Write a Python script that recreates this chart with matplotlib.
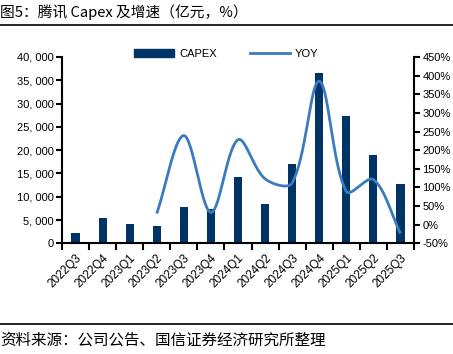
import numpy as np
import matplotlib
matplotlib.use("Agg")
import matplotlib.pyplot as plt
from matplotlib.lines import Line2D
from matplotlib.patches import Patch
from matplotlib.ticker import FuncFormatter

plt.rcParams['font.family'] = ['Liberation Sans', 'Noto Sans CJK SC', 'DejaVu Sans']

quarters = ['2022Q3', '2022Q4', '2023Q1', '2023Q2', '2023Q3', '2023Q4', '2024Q1',
            '2024Q2', '2024Q3', '2024Q4', '2025Q1', '2025Q2', '2025Q3']
capex = [2270, 5490, 4200, 3770, 7850, 7420, 14280, 8420, 17060, 36570, 27290, 18930, 12710]
# 同比从2023Q2开始
yoy = [30, 239, 33, 228, 123, 112, 385, 89, 121, -24]

bar_color = '#003466'
line_color = '#3A7BBF'


def smooth_curve(x, y, sx, sy, n=40):
    # 类似Excel的平滑线：按屏幕上的弦长分配控制点
    P = np.column_stack([np.asarray(x, float) * sx, np.asarray(y, float) * sy])
    m = len(P)
    d = np.linalg.norm(np.diff(P, axis=0), axis=1)
    out = [P[0]]
    for i in range(m - 1):
        p1, p2 = P[i], P[i + 1]
        if i == 0:
            c1 = p1 + (p2 - p1) / 3
        else:
            D = P[i + 1] - P[i - 1]
            c1 = p1 + D * d[i] / (d[i - 1] + d[i]) / 3
        if i + 1 == m - 1:
            c2 = p2 - (p2 - p1) / 3
        else:
            D = P[i + 2] - P[i]
            c2 = p2 - D * d[i] / (d[i] + d[i + 1]) / 3
        t = np.linspace(0, 1, n)[1:, None]
        seg = ((1 - t) ** 3 * p1 + 3 * (1 - t) ** 2 * t * c1
               + 3 * (1 - t) * t ** 2 * c2 + t ** 3 * p2)
        out.extend(seg)
    out = np.array(out)
    return out[:, 0] / sx, out[:, 1] / sy


fig = plt.figure(figsize=(4.53, 3.54), dpi=100)
ax = fig.add_axes([62 / 453, 1 - 243.3 / 354, (414 - 62) / 453, (243.3 - 57) / 354])

x = np.arange(len(quarters))
ax.bar(x, capex, width=0.3, color=bar_color, zorder=2)
ax.set_xlim(-0.5, len(quarters) - 0.5)
ax.set_ylim(0, 40000)
ax.set_yticks(np.arange(0, 40001, 5000))
ax.yaxis.set_major_formatter(FuncFormatter(lambda v, p: f'{int(v):,}'.replace(',', ', ')))

ax.set_xticks(x)
ax.set_xticklabels(quarters, rotation=45, ha='right', rotation_mode='anchor', fontsize=8.5)
ax.set_xticks(np.arange(-0.5, len(quarters), 1), minor=True)
ax.tick_params(axis='x', which='major', length=0, pad=6)
ax.tick_params(axis='x', which='minor', length=5, width=1.5, direction='out')
ax.tick_params(axis='y', labelsize=8, length=4, width=1.5, direction='out', pad=2)

ax2 = ax.twinx()
xi = np.arange(3, len(quarters))
# 像素比例：每个季度约27px，每1%约0.373px
lx, ly = smooth_curve(xi, yoy, 27.1, 0.373)
ax2.plot(lx, ly, color=line_color, lw=2, zorder=3, solid_capstyle='butt')
ax2.set_ylim(-50, 450)
ax2.set_yticks(np.arange(-50, 451, 50))
ax2.yaxis.set_major_formatter(FuncFormatter(lambda v, p: f'{int(v)}%'))
ax2.tick_params(axis='y', labelsize=8, length=4, width=1.5, direction='out', pad=2)

for a in (ax, ax2):
    a.spines['top'].set_visible(False)
    for s in ('left', 'right', 'bottom'):
        a.spines[s].set_linewidth(1.5)
ax.spines['right'].set_visible(False)
ax2.spines['left'].set_visible(False)
ax2.spines['bottom'].set_visible(False)

handles = [Patch(color=bar_color), Line2D([0], [0], color=line_color, lw=2)]
fig.legend(handles, ['CAPEX', 'YOY'], loc='center left', bbox_to_anchor=(124 / 453, 1 - 54 / 354),
           ncol=2, frameon=False, fontsize=8, handlelength=3.6, handleheight=0.7,
           columnspacing=3.0, handletextpad=0.45)

fig.text(0.0, 1 - 12 / 354, '图5：腾讯 Capex 及增速（亿元，%）', fontsize=10.6,
         va='center', ha='left', family=['Noto Sans CJK SC', 'DejaVu Sans'])
fig.add_artist(Line2D([0, 1], [1 - 25 / 354, 1 - 25 / 354], color='black', lw=1.2))
fig.add_artist(Line2D([0, 1], [1 - 324 / 354, 1 - 324 / 354], color='black', lw=1.2))
fig.text(0.0, 1 - 340 / 354, '资料来源：公司公告、国信证券经济研究所整理', fontsize=11.2,
         va='center', ha='left', family=['Noto Sans CJK SC', 'DejaVu Sans'])

fig.savefig('out.png', dpi=100)
